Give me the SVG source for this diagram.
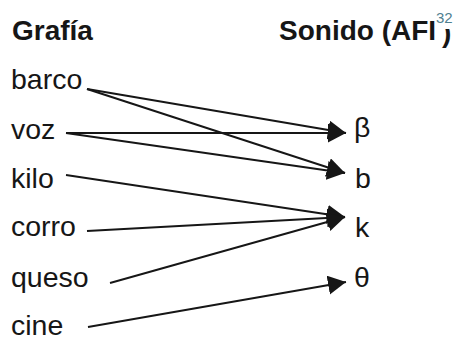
<svg xmlns="http://www.w3.org/2000/svg" width="459" height="338" viewBox="0 0 459 338">
  <defs>
    <style>
      .h { font-family: "Liberation Sans", Arial, sans-serif; font-weight: bold; font-size: 28px; fill: #161616; }
      .t { font-family: "Liberation Sans", Arial, sans-serif; font-size: 28.5px; fill: #161616; }
      .sup { font-family: "Liberation Sans", Arial, sans-serif; font-size: 15px; fill: #4f8090; }
      .c { stroke: #161616; stroke-width: 1.9; fill: none; marker-end: url(#arr); }
    </style>
    <marker id="arr" markerUnits="userSpaceOnUse" markerWidth="20" markerHeight="20" refX="18" refY="9.5" orient="auto">
      <path d="M0,0 L18,9.5 L0,19 z" fill="#161616"/>
    </marker>
    <clipPath id="pclip"><rect x="436" y="29" width="23" height="30"/></clipPath>
  </defs>
  <rect width="459" height="338" fill="#ffffff"/>
  <g id="header">
    <text class="h" x="12" y="40">Grafía</text>
    <text class="h" x="279" y="40">Sonido (AFI</text>
    <text class="h" x="442" y="42" clip-path="url(#pclip)">)</text>
    <text class="sup" x="436" y="23">32</text>
  </g>
  <g id="barco"><text class="t" x="11" y="89">barco</text></g>
  <g id="voz"><text class="t" x="11" y="139">voz</text></g>
  <g id="kilo"><text class="t" x="11" y="188">kilo</text></g>
  <g id="corro"><text class="t" x="11" y="236">corro</text></g>
  <g id="queso"><text class="t" x="11" y="287">queso</text></g>
  <g id="cine"><text class="t" x="11" y="335">cine</text></g>
  <g id="beta"><text class="t" x="354" y="137">β</text></g>
  <g id="b"><text class="t" x="355" y="188">b</text></g>
  <g id="k"><text class="t" x="355" y="237">k</text></g>
  <g id="theta"><text class="t" x="354" y="287">θ</text></g>
  <g id="connectors">
    <line class="c" x1="87" y1="89" x2="346" y2="133"/>
    <line class="c" x1="87" y1="89" x2="345" y2="173"/>
    <line class="c" x1="66" y1="133" x2="346" y2="133"/>
    <line class="c" x1="66" y1="133" x2="345" y2="173"/>
    <line class="c" x1="66" y1="175" x2="345" y2="217"/>
    <line class="c" x1="87" y1="231" x2="345" y2="217"/>
    <line class="c" x1="110" y1="283" x2="345" y2="217"/>
    <line class="c" x1="88" y1="327" x2="346" y2="282"/>
  </g>
</svg>
